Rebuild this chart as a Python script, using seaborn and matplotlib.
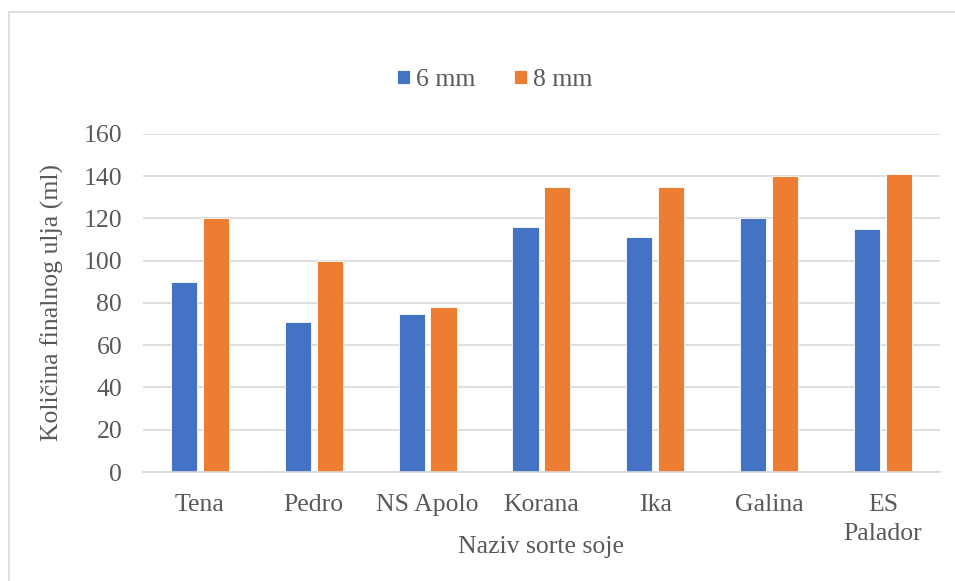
import pandas as pd
import matplotlib.pyplot as plt
import seaborn as sns
from matplotlib.patches import Rectangle

# data
sorte = ["Tena", "Pedro", "NS Apolo", "Korana", "Ika", "Galina", "ES\nPalador"]
mm6 = [90, 71, 75, 116, 111, 120, 115]
mm8 = [120, 100, 78, 135, 135, 140, 141]
serije = ["6 mm", "8 mm"]
boje = ["#4472C4", "#ED7D31"]

df = pd.DataFrame({
    "sorta": sorte * 2,
    "vrijednost": mm6 + mm8,
    "serija": [serije[0]] * len(sorte) + [serije[1]] * len(sorte),
})

sns.set_theme(style="white")
plt.rcParams['font.family'] = ['Liberation Serif', 'DejaVu Serif']
txt = "#595959"
fs = 18.5

fig = plt.figure(figsize=(9.55, 5.81), dpi=100)
ax = fig.add_axes([0.1497, 0.1876, 0.8346, 0.5818])

sns.barplot(data=df, x="sorta", y="vrijednost", hue="serija", palette=boje,
            width=0.56, gap=0.18, ax=ax, edgecolor="white", linewidth=0.6,
            saturation=1)

ax.set_ylim(0, 160)
ax.set_yticks(range(0, 161, 20))
ax.grid(axis="y", color="#D9D9D9", linewidth=1.2)
ax.set_axisbelow(True)
for s in ["top", "right", "left"]:
    ax.spines[s].set_visible(False)
ax.spines["bottom"].set_color("#D9D9D9")
ax.spines["bottom"].set_linewidth(1.2)
ax.tick_params(axis="both", length=0, labelsize=fs, labelcolor=txt)
ax.tick_params(axis="y", pad=15)
ax.tick_params(axis="x", pad=16)
for lab in ax.get_xticklabels():
    lab.set_linespacing(1.4)

ax.set_xlabel("Naziv sorte soje", fontsize=fs, color=txt)
ax.xaxis.set_label_coords(0.5, -0.19)
ax.set_ylabel("Količina finalnog ulja (ml)", fontsize=fs, color=txt, labelpad=14)

ax.legend(loc="center", bbox_to_anchor=(0.518, 0.862), bbox_transform=fig.transFigure,
          ncol=2, frameon=False, fontsize=fs, labelcolor=txt,
          handlelength=0.5, handleheight=0.5, handletextpad=0.25, columnspacing=1.5)

# outer chart border (runs off the right and bottom edge)
fig.patches.append(Rectangle((0.0094, -0.1), 1.2, 1.0794, transform=fig.transFigure,
                             fill=False, edgecolor="#D9D9D9", linewidth=1.2))

fig.savefig("out.png", dpi=100)
